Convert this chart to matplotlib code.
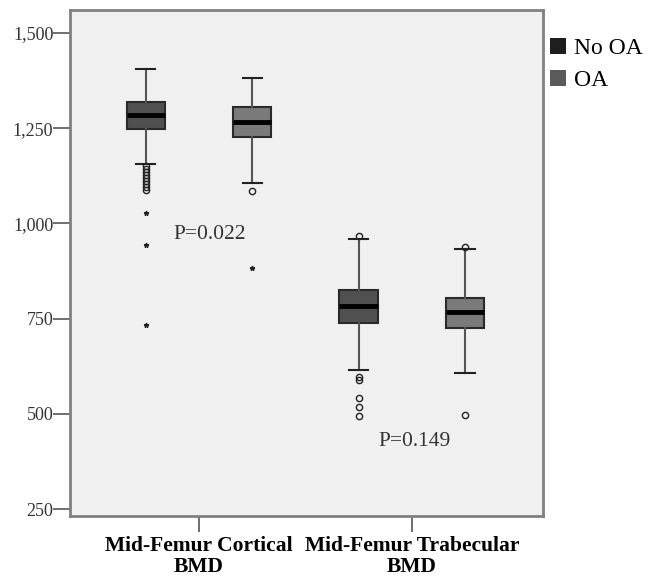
import matplotlib.pyplot as plt
from matplotlib.patches import Patch
import numpy as np

# values (BMD, mg/cm3)
categories = ['Mid-Femur Cortical\nBMD', 'Mid-Femur Trabecular\nBMD']
groups = ['No OA', 'OA']

no_oa_whislo = [1156, 615]
no_oa_q1 = [1248, 739]
no_oa_med = [1285, 783]
no_oa_q3 = [1319, 825]
no_oa_whishi = [1406, 959]
no_oa_circles = [[1152, 1144, 1136, 1128, 1120, 1112, 1104, 1096, 1089], [966, 597, 589, 542, 518, 494]]
no_oa_stars = [[1028, 944, 733], []]

oa_whislo = [1106, 607]
oa_q1 = [1227, 726]
oa_med = [1267, 768]
oa_q3 = [1306, 804]
oa_whishi = [1382, 933]
oa_circles = [[1085], [938, 497]]
oa_stars = [[883], []]

p_labels = ['P=0.022', 'P=0.149']
p_x = [0.05, 0.015]
p_y = [970, 428]

box_colors = ['#505050', '#7a7a7a']
legend_colors = ['#1e1e1e', '#5a5a5a']

plt.rcParams['font.family'] = ['Liberation Serif', 'DejaVu Serif']

fig = plt.figure(figsize=(6.61, 5.79), dpi=100)
ax = fig.add_axes([0.106, 0.109, 0.715, 0.874])
ax.set_facecolor('#f0f0f0')

offsets = [-0.25, 0.25]
stats_by_group = [
    (no_oa_whislo, no_oa_q1, no_oa_med, no_oa_q3, no_oa_whishi, no_oa_circles, no_oa_stars),
    (oa_whislo, oa_q1, oa_med, oa_q3, oa_whishi, oa_circles, oa_stars),
]

for g, (wl, q1, med, q3, wh, circ, stars) in enumerate(stats_by_group):
    stats = []
    for i in range(len(categories)):
        stats.append(dict(whislo=wl[i], q1=q1[i], med=med[i], q3=q3[i],
                          whishi=wh[i], fliers=circ[i]))
    pos = np.arange(len(categories)) + offsets[g]
    ax.bxp(stats, positions=pos, widths=0.18, patch_artist=True,
           boxprops=dict(facecolor=box_colors[g], edgecolor='#2a2a2a', linewidth=1.5),
           medianprops=dict(color='black', linewidth=3.5),
           whiskerprops=dict(color='#555555', linewidth=1.5),
           capprops=dict(color='#222222', linewidth=1.5),
           flierprops=dict(marker='o', markerfacecolor='none', markeredgecolor='#222222',
                           markersize=4.5, markeredgewidth=1))
    for i in range(len(categories)):
        if stars[i]:
            ax.plot([pos[i]] * len(stars[i]), stars[i], linestyle='none', marker='*',
                    color='#222222', markersize=3.5)

for i in range(len(categories)):
    ax.text(i + p_x[i], p_y[i], p_labels[i], ha='center', va='center',
            fontsize=15.5, color='#333333')

ax.set_xlim(-0.606, 1.615)
ax.set_ylim(232, 1561)
ax.set_xticks(range(len(categories)))
ax.set_xticklabels(categories, fontsize=15.5, fontweight='bold', linespacing=1.08)
ax.set_yticks([250, 500, 750, 1000, 1250, 1500])
ax.set_yticklabels(['250', '500', '750', '1,000', '1,250', '1,500'], fontsize=13, color='#333333')
ax.tick_params(axis='y', length=12, width=1.2, color='#555555', pad=0)
ax.tick_params(axis='x', length=11.5, width=1.2, color='#555555', pad=3)
for s in ax.spines.values():
    s.set_color('#808080')
    s.set_linewidth(2)

handles = [Patch(facecolor=legend_colors[k], edgecolor='none', label=groups[k]) for k in range(2)]
fig.legend(handles=handles, loc='upper left', bbox_to_anchor=(0.832, 0.935), frameon=False,
           fontsize=17, handlelength=0.7, handleheight=0.7, handletextpad=0.3,
           labelspacing=0.45, borderpad=0, borderaxespad=0)

fig.savefig('out.png', dpi=100)
